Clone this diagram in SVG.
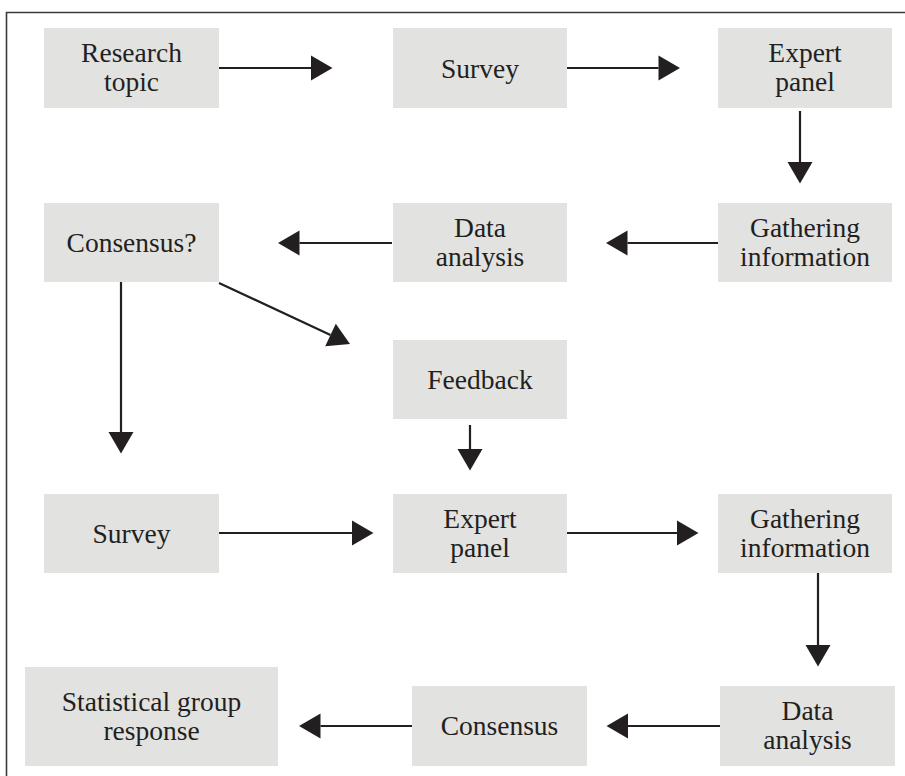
<svg xmlns="http://www.w3.org/2000/svg" width="905" height="776" viewBox="0 0 905 776">
<style>
.box{fill:#e2e2e1}
.t{font-family:"Liberation Serif","Times New Roman",serif;font-size:27.5px;fill:#231f20;text-anchor:middle}
.c{stroke:#231f20;stroke-width:2.2;fill:none;marker-end:url(#ah)}
.frame{stroke:#3a3a3a;stroke-width:1.6;fill:none}
</style>
<defs>
<marker id="ah" markerUnits="userSpaceOnUse" markerWidth="22" markerHeight="26" refX="0" refY="12.5" orient="auto" overflow="visible">
<path d="M0,0 L21.5,12.5 L0,25 z" fill="#231f20"/>
</marker>
</defs>
<rect width="905" height="776" fill="#ffffff"/>
<path class="frame" d="M6.5,776 V12.5 H905"/>
<g id="n1"><rect class="box" x="44" y="28" width="175" height="80"/><text class="t" x="131.5" y="62">Research</text><text class="t" x="131.5" y="91">topic</text></g>
<g id="n2"><rect class="box" x="393" y="28" width="174" height="80"/><text class="t" x="480" y="77.5">Survey</text></g>
<g id="n3"><rect class="box" x="718" y="28" width="174" height="80"/><text class="t" x="805" y="62">Expert</text><text class="t" x="805" y="91">panel</text></g>
<g id="n4"><rect class="box" x="44" y="203" width="175" height="79"/><text class="t" x="131.5" y="252">Consensus?</text></g>
<g id="n5"><rect class="box" x="393" y="203" width="174" height="79"/><text class="t" x="480" y="237">Data</text><text class="t" x="480" y="266">analysis</text></g>
<g id="n6"><rect class="box" x="718" y="203" width="174" height="79"/><text class="t" x="805" y="237">Gathering</text><text class="t" x="805" y="266">information</text></g>
<g id="n7"><rect class="box" x="393" y="340" width="174" height="79"/><text class="t" x="480" y="389">Feedback</text></g>
<g id="n8"><rect class="box" x="44" y="494" width="175" height="79"/><text class="t" x="131.5" y="543">Survey</text></g>
<g id="n9"><rect class="box" x="393" y="494" width="174" height="79"/><text class="t" x="480" y="528">Expert</text><text class="t" x="480" y="557">panel</text></g>
<g id="n10"><rect class="box" x="718" y="494" width="174" height="79"/><text class="t" x="805" y="528">Gathering</text><text class="t" x="805" y="557">information</text></g>
<g id="n11"><rect class="box" x="25" y="667" width="253" height="99"/><text class="t" x="151.5" y="711">Statistical group</text><text class="t" x="151.5" y="740">response</text></g>
<g id="n12"><rect class="box" x="412" y="686" width="175" height="80"/><text class="t" x="499.5" y="735">Consensus</text></g>
<g id="n13"><rect class="box" x="720" y="686" width="175" height="80"/><text class="t" x="807.5" y="720">Data</text><text class="t" x="807.5" y="749">analysis</text></g>
<g id="connectors">
<path class="c" d="M219,68 H311"/>
<path class="c" d="M567,68 H658.5"/>
<path class="c" d="M800,111 V162"/>
<path class="c" d="M718,243 H627.5"/>
<path class="c" d="M392,243 H299.5"/>
<path class="c" d="M219,283 L330.5,335"/>
<path class="c" d="M121,282 V432"/>
<path class="c" d="M470,425 V449"/>
<path class="c" d="M219,533 H352"/>
<path class="c" d="M567,533 H677"/>
<path class="c" d="M818,573 V645"/>
<path class="c" d="M720,726 H628"/>
<path class="c" d="M412,726 H320.5"/>
</g>
</svg>
